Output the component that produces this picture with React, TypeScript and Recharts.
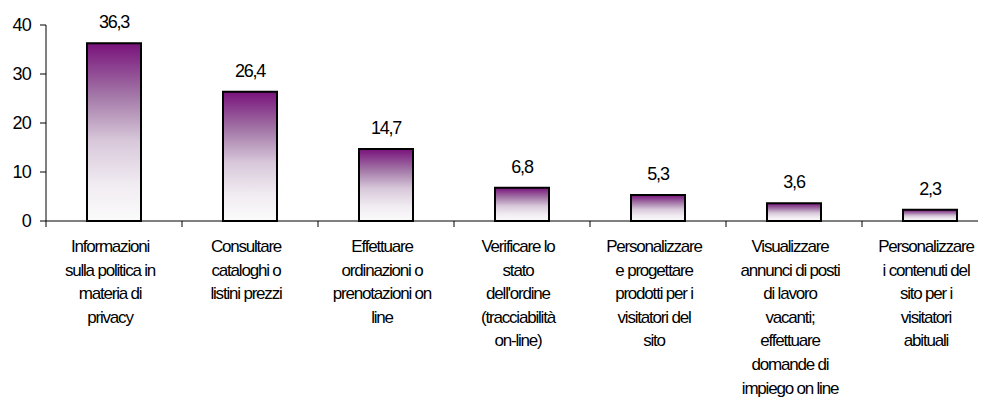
import * as React from "react";
import { BarChart, Bar, XAxis, YAxis, LabelList } from "recharts";

const CATEGORIES = [
  "Informazioni\nsulla politica in\nmateria di\nprivacy",
  "Consultare\ncataloghi o\nlistini prezzi",
  "Effettuare\nordinazioni o\nprenotazioni on\nline",
  "Verificare lo\nstato\ndell'ordine\n(tracciabilità\non-line)",
  "Personalizzare\ne progettare\nprodotti per i\nvisitatori del\nsito",
  "Visualizzare\nannunci di posti\ndi lavoro\nvacanti;\neffettuare\ndomande di\nimpiego on line",
  "Personalizzare\ni contenuti del\nsito per i\nvisitatori\nabituali",
];
const VALUES = [36.3, 26.4, 14.7, 6.8, 5.3, 3.6, 2.3];
const Y_TICKS = [0, 10, 20, 30, 40];

const FONT = "'Liberation Sans', Arial, sans-serif";

const fmt = (v: any) => Number(v).toFixed(1).replace(".", ",");

// category label plus the short tick marks on the category boundaries
function CategoryTick(props: any) {
  const { x, y, payload, index, width } = props;
  const half = payload.offset != null && payload.offset > 0 ? payload.offset : width / CATEGORIES.length / 2;
  const lines = String(payload.value).split("\n");
  const last = index === CATEGORIES.length - 1;
  return (
    <g>
      <line x1={x - half} x2={x - half} y1={y} y2={y + 6} stroke="#000" />
      {last && <line x1={x + half} x2={x + half} y1={y} y2={y + 6} stroke="#000" />}
      <text
        x={x}
        y={y}
        textAnchor="middle"
        fill="#000"
        fontFamily={FONT}
        fontSize={17}
        letterSpacing={-1.2}
      >
        {lines.map((l, i) => (
          <tspan key={i} x={x - 4} dy={i === 0 ? 31 : 23.6}>
            {l}
          </tspan>
        ))}
      </text>
    </g>
  );
}

export default function App() {
  const data = CATEGORIES.map((c, i) => ({ name: c, value: VALUES[i] }));
  return (
    <div style={{ marginLeft: -8, marginTop: -8, width: 986, height: 398, overflow: "hidden" }}>
      <BarChart
        width={1000}
        height={398}
        data={data}
        margin={{ top: 25, right: 2, bottom: 0, left: 0 }}
      >
        <defs>
          <linearGradient id="barFill" x1="0" y1="0" x2="0" y2="1">
            <stop offset="0%" stopColor="#78127b" />
            <stop offset="30%" stopColor="#a479a8" />
            <stop offset="55%" stopColor="#d8c8da" />
            <stop offset="80%" stopColor="#f1ecf2" />
            <stop offset="100%" stopColor="#fbfbfb" />
          </linearGradient>
        </defs>
        <XAxis
          dataKey="name"
          height={177}
          axisLine={{ stroke: "#000" }}
          tickLine={false}
          tickSize={0}
          tickMargin={0}
          interval={0}
          tick={<CategoryTick />}
        />
        <YAxis
          width={46}
          domain={[0, 40]}
          ticks={Y_TICKS}
          tickSize={6}
          tickMargin={9}
          axisLine={{ stroke: "#000" }}
          tickLine={{ stroke: "#000" }}
          tick={{ fill: "#000", fontSize: 18, fontFamily: FONT, letterSpacing: -0.8 }}
        />
        <Bar
          dataKey="value"
          barSize={54}
          fill="url(#barFill)"
          stroke="#000"
          strokeWidth={2}
          isAnimationActive={false}
        >
          <LabelList
            dataKey="value"
            position="top"
            offset={15}
            formatter={fmt}
            fill="#000"
            fontSize={18}
            fontFamily={FONT}
            letterSpacing={-1.2}
          />
        </Bar>
      </BarChart>
    </div>
  );
}
